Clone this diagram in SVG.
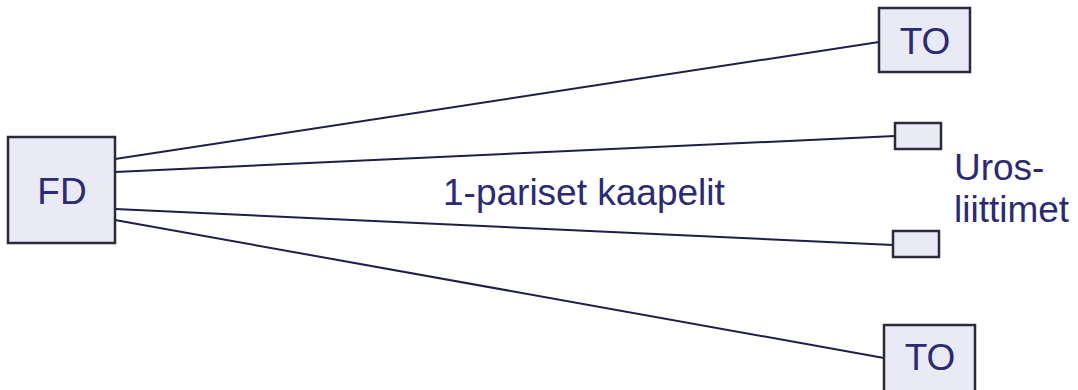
<svg xmlns="http://www.w3.org/2000/svg" width="1078" height="390" viewBox="0 0 1078 390">
<style>
.box{fill:#eaeaf6;stroke:#2a2a3a;stroke-width:2.5}
.t{font-family:"Liberation Sans",Arial,sans-serif;font-size:37px;fill:#2b2a72}
.ln{stroke:#1e1e4a;stroke-width:2;fill:none}
</style>
<rect width="1078" height="390" fill="#ffffff"/>
<g id="connectors">
<line class="ln" x1="115" y1="159" x2="879" y2="42"/>
<line class="ln" x1="115" y1="172" x2="895" y2="136"/>
<line class="ln" x1="115" y1="209" x2="893" y2="245"/>
<line class="ln" x1="115" y1="220" x2="884" y2="358"/>
</g>
<g id="fd"><rect class="box" x="8" y="137" width="107" height="106"/><text class="t" x="62" y="204" text-anchor="middle">FD</text></g>
<g id="to1"><rect class="box" x="879" y="8" width="91" height="64"/><text class="t" x="925" y="54" text-anchor="middle">TO</text></g>
<g id="plug1"><rect class="box" x="895" y="123" width="46" height="26"/></g>
<g id="plug2"><rect class="box" x="893" y="231" width="46" height="26"/></g>
<g id="to2"><rect class="box" x="884" y="325" width="91" height="70"/><text class="t" x="930" y="370" text-anchor="middle">TO</text></g>
<g id="cable-label"><text class="t" x="443" y="205">1-pariset kaapelit</text></g>
<g id="plug-label"><text class="t" x="954" y="180">Uros-</text><text class="t" x="954" y="222">liittimet</text></g>
</svg>
